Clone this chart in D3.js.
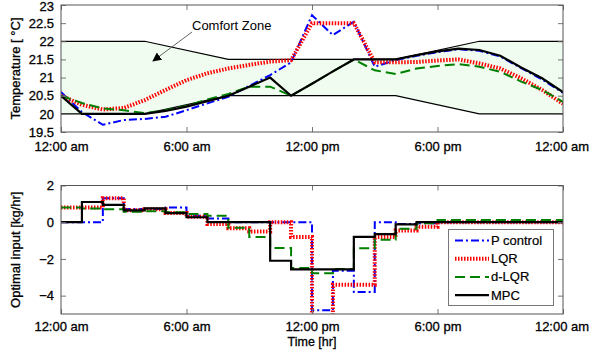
<!DOCTYPE html>
<html>
<head>
<meta charset="utf-8">
<script src="https://cdn.jsdelivr.net/npm/d3@7"></script>
<style>
body { margin: 0; background: #fff; }
text { font-family: "Liberation Sans", Arial, sans-serif; }
</style>
</head>
<body>
<div id="chart"></div>
<script>
// hours of the day, sampled every hour
var hours = d3.range(0, 25);
var tickHours = [0, 6, 12, 18, 24];
var tickLabels = ["12:00 am", "6:00 am", "12:00 pm", "6:00 pm", "12:00 am"];

// comfort zone bounds
var zoneHours = [0, 4, 8, 16, 20, 24];
var zoneUpper = [22, 22, 21.5, 21.5, 22, 22];
var zoneLower = [20, 20, 20.5, 20.5, 20, 20];

// room temperature [C]
var tempP   = [20.6, 20.05, 19.7, 19.83, 19.86, 19.92, 20.1, 20.29, 20.47, 20.77, 21.07, 21.42, 22.72, 22.17, 22.54, 21.3, 21.48, 21.6, 21.7, 21.78, 21.74, 21.58, 21.26, 20.95, 20.58];
var tempLQR = [20.5, 20.25, 20.12, 20.16, 20.38, 20.66, 20.93, 21.12, 21.25, 21.35, 21.44, 21.48, 22.5, 22.5, 22.5, 21.42, 21.42, 21.43, 21.47, 21.5, 21.39, 21.25, 20.98, 20.66, 20.28];
var tempDLQR = [20.5, 20.3, 20.15, 20.1, 20.02, 20.1, 20.22, 20.4, 20.55, 20.75, 20.75, 20.5, 20.83, 21.17, 21.5, 21.2, 21.1, 21.25, 21.32, 21.37, 21.3, 21.16, 20.89, 20.66, 20.33];
var tempMPC = [20.5, 20.0, 20.0, 20.0, 20.0, 20.08, 20.2, 20.35, 20.5, 20.75, 21.0, 20.5, 20.83, 21.17, 21.5, 21.5, 21.5, 21.62, 21.72, 21.8, 21.76, 21.6, 21.28, 20.98, 20.6];

// optimal input [kg/hr], held for one hour each
var inputP    = [0, 0, 1.3, 0.72, 0.72, 0.8, 0.35, 0.2, 0, 0, 0, 0, -4.8, -2.65, -3.8, 0, -0.1, -0.05, 0, 0, 0, 0, 0, 0];
var inputLQR  = [0.8, 0.8, 1.3, 0.65, 0.7, 0.5, 0.3, -0.1, -0.33, -0.5, 0, -0.8, -5.6, -3.4, -3.4, -0.8, -0.45, -0.25, 0, 0, 0, 0, 0, 0];
var inputDLQR = [0.8, 0.75, 0.7, 0.57, 0.6, 0.54, 0.45, 0.35, -0.3, -0.8, -1.4, -2.5, -2.78, -2.55, -1.42, -0.95, -0.35, -0.05, 0.12, 0.12, 0.12, 0.12, 0.12, 0.12];
var inputMPC  = [0, 1.1, 0.95, 0.65, 0.75, 0.5, 0.27, 0, 0, 0, -2.1, -2.57, -2.57, -2.57, -0.8, -0.65, -0.12, 0, 0, 0, 0, 0, 0, 0];

var tempTicks = [19.5, 20, 20.5, 21, 21.5, 22, 22.5, 23];
var inputTicks = [-4, -2, 0, 2];

var series = [
    {name: "P control", temp: tempP, input: inputP, color: "#0000ff", width: 2, dash: "8,3,2,3"},
    {name: "LQR", temp: tempLQR, input: inputLQR, color: "#ff0000", width: 4, dash: "1.5,1.5"},
    {name: "d-LQR", temp: tempDLQR, input: inputDLQR, color: "#008000", width: 2, dash: "10,5"},
    {name: "MPC", temp: tempMPC, input: inputMPC, color: "#000000", width: 2.2, dash: null}
];

var W = 589, H = 354;
var LEFT = 61, RIGHT = 563;
var TICK = 5;

var svg = d3.select("#chart").append("svg")
.attr("width", W)
.attr("height", H)
.style("background", "#fff");

var defs = svg.append("defs");

var x = d3.scaleLinear().domain([0, 24]).range([LEFT, RIGHT]);
var yT = d3.scaleLinear().domain([19.5, 23]).range([132, 5]);
var yI = d3.scaleLinear().domain([-5, 2]).range([314, 185.5]);

function clipFor(id, y) {
    defs.append("clipPath").attr("id", id)
    .append("rect")
    .attr("x", LEFT).attr("y", y.range()[1])
    .attr("width", RIGHT - LEFT)
    .attr("height", y.range()[0] - y.range()[1]);
    return "url(#" + id + ")";
}

function drawFrame(y, ticks, labelPad, title) {
    var top = y.range()[1], bottom = y.range()[0];
    var g = svg.append("g");

    g.append("g")
    .attr("transform", "translate(0," + bottom + ")")
    .call(d3.axisBottom(x).tickValues(tickHours).tickFormat((d, i) => tickLabels[i]).tickSize(-TICK).tickPadding(labelPad));
    g.append("g")
    .attr("transform", "translate(0," + top + ")")
    .call(d3.axisTop(x).tickValues(tickHours).tickFormat("").tickSize(-TICK));
    g.append("g")
    .attr("transform", "translate(" + LEFT + ",0)")
    .call(d3.axisLeft(y).tickValues(ticks).tickFormat(d3.format("")).tickSize(-TICK).tickPadding(7));
    g.append("g")
    .attr("transform", "translate(" + RIGHT + ",0)")
    .call(d3.axisRight(y).tickValues(ticks).tickFormat("").tickSize(-TICK));

    g.selectAll(".domain").remove();
    g.selectAll(".tick line").attr("stroke", "#777");
    g.selectAll(".tick text")
    .style("font-size", "13px")
    .attr("fill", "#000")
    .style("stroke", "#000")
    .style("stroke-width", 0.3);

    // keep the last time label inside the picture, as in the reference
    g.selectAll(".tick text").filter(d => d === 24).attr("dx", -1.5);
    // keep the top value label from touching the edge
    g.selectAll(".tick text").filter(d => d === 23).attr("dy", "0.45em");

    g.append("rect")
    .attr("x", LEFT)
    .attr("y", top)
    .attr("width", RIGHT - LEFT)
    .attr("height", bottom - top)
    .style("fill", "none")
    .style("stroke", "#555")
    .style("stroke-width", 1);

    g.append("text")
    .text(title)
    .attr("transform", "translate(20," + (top + bottom) / 2 + ") rotate(-90)")
    .style("font-size", "13px")
    .style("stroke", "#000")
    .style("stroke-width", 0.3)
    .style("text-anchor", "middle");
}

// ---- temperature panel ----
var zone = zoneHours.map((h, i) => ({h: h, lo: zoneLower[i], hi: zoneUpper[i]}));

svg.append("path")
.datum(zone)
.attr("d", d3.area().x(d => x(d.h)).y0(d => yT(d.lo)).y1(d => yT(d.hi)))
.style("fill", "#effcef");

["lo", "hi"].forEach(function (k) {
    svg.append("path")
    .datum(zone)
    .attr("d", d3.line().x(d => x(d.h)).y(d => yT(d[k])))
    .style("fill", "none")
    .style("stroke", "#000")
    .style("stroke-width", 1.2);
});

var tempLine = d3.line().x((d, i) => x(hours[i])).y(d => yT(d));
var tempLines = svg.append("g").attr("clip-path", clipFor("clipT", yT));

series.forEach(function (s) {
    tempLines.append("path")
    .datum(s.temp)
    .attr("d", tempLine)
    .style("fill", "none")
    .style("stroke", s.color)
    .style("stroke-width", s.width)
    .style("stroke-dasharray", s.dash);
});

drawFrame(yT, tempTicks, 10, "Temperature [ °C]");

// comfort zone annotation
defs.append("marker")
.attr("id", "head")
.attr("viewBox", "0 0 10 10")
.attr("refX", 9)
.attr("refY", 5)
.attr("markerWidth", 9)
.attr("markerHeight", 9)
.attr("markerUnits", "userSpaceOnUse")
.attr("orient", "auto")
.append("path")
.attr("d", "M0,0 L10,5 L0,10 z")
.style("fill", "#000");

svg.append("line")
.attr("x1", 192).attr("y1", 32)
.attr("x2", 153).attr("y2", 61)
.style("stroke", "#666")
.style("stroke-width", 1)
.attr("marker-end", "url(#head)");

svg.append("text")
.text("Comfort Zone")
.attr("x", 192)
.attr("y", 30)
.style("font-size", "13px");

// ---- input panel ----
var inputLine = d3.line()
.x((d, i) => x(i))
.y(d => yI(d))
.curve(d3.curveStepAfter);
var inputLines = svg.append("g").attr("clip-path", clipFor("clipI", yI));

series.forEach(function (s) {
    var pts = s.input.concat([s.input[s.input.length - 1]]);
    inputLines.append("path")
    .datum(pts)
    .attr("d", inputLine)
    .style("fill", "none")
    .style("stroke", s.color)
    .style("stroke-width", s.width)
    .style("stroke-dasharray", s.dash);
});

drawFrame(yI, inputTicks, 8, "Optimal input [kg/hr]");

svg.append("text")
.text("Time [hr]")
.attr("x", x(12))
.attr("y", 346)
.style("font-size", "12.5px")
.style("stroke", "#000")
.style("stroke-width", 0.3)
.style("text-anchor", "middle");

// legend
var legend = svg.append("g");
legend.append("rect")
.attr("x", 448.5).attr("y", 229.5)
.attr("width", 105).attr("height", 76)
.style("fill", "#fff")
.style("stroke", "#777")
.style("stroke-width", 1);

series.forEach(function (s, i) {
    var ly = 240.5 + i * 18.2;
    legend.append("line")
    .attr("x1", 455).attr("x2", 489)
    .attr("y1", ly).attr("y2", ly)
    .style("stroke", s.color)
    .style("stroke-width", s.width)
    .style("stroke-dasharray", s.dash);
    legend.append("text")
    .text(s.name)
    .attr("x", 491)
    .attr("y", ly + 4.5)
    .style("font-size", "13px")
    .style("stroke", "#000")
    .style("stroke-width", 0.2);
});
</script>
</body>
</html>
